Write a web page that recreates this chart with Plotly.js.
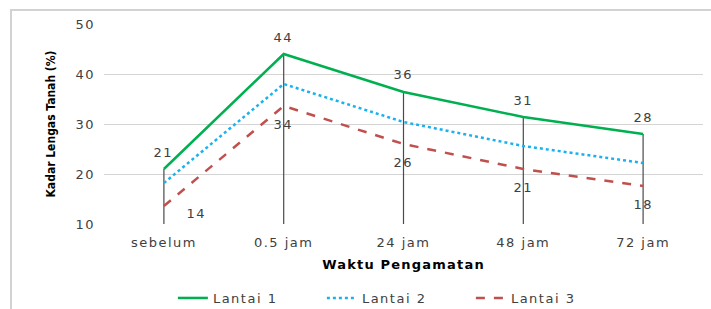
<!DOCTYPE html>
<html>
<head>
<meta charset="utf-8">
<script src="https://cdn.plot.ly/plotly-3.0.1.min.js"></script>
<style>
  html, body { margin: 0; padding: 0; background: #fff; }
  #wrap { position: relative; width: 711px; height: 309px; overflow: hidden; }
  #chart { width: 711px; height: 309px; }
  #frame { position: absolute; left: 10px; top: 9px; width: 900px; height: 500px;
           border-left: 2px solid #d2d2d2; border-top: 2px solid #d2d2d2; pointer-events: none; }
  #chart .xtick text, #chart .ytick text, #chart .annotation-text,
  #chart .legendtext { letter-spacing: 1.5px; }
  #chart .g-xtitle text { letter-spacing: 1.2px; }
</style>
</head>
<body>
<div id="wrap">
  <div id="chart"></div>
  <div id="frame"></div>
</div>
<script>
// ---- data ----
const categories = ["sebelum", "0.5 jam", "24 jam", "48 jam", "72 jam"];
const lantai1 = [21, 44, 36.4, 31.4, 28];
const lantai2 = [18.2, 38, 30.4, 25.6, 22.2];
const lantai3 = [13.6, 33.6, 26, 21, 17.6];
const labels1 = ["21", "44", "36", "31", "28"];
const labels3 = ["14", "34", "26", "21", "18"];
const yTicks = [10, 20, 30, 40, 50];
const yMin = 10;

// ---- styling ----
const txtFont = { family: "DejaVu Sans, Open Sans, sans-serif", size: 13, color: "#404040" };
const label1Shift = { x: [0, 0, 0, 0, 0], y: [17, 17, 18, 17, 17] };
const label3Shift = { x: [33, 0, 0, 0, 0], y: [-7, -18, -18, -18, -18] };

const dropMinus = lantai1.map(v => v - yMin);

const traces = [
  {
    x: categories, y: lantai1, name: "Lantai 1", type: "scatter", mode: "lines",
    line: { color: "#00b050", width: 2.5 },
    error_y: { type: "data", symmetric: false, array: lantai1.map(() => 0),
               arrayminus: dropMinus, width: 0, thickness: 1.2, color: "#4a4a4a" }
  },
  {
    x: categories, y: lantai2, name: "Lantai 2", type: "scatter", mode: "lines",
    line: { color: "#1ab2ee", width: 2.5, dash: "dot" }
  },
  {
    x: categories, y: lantai3, name: "Lantai 3", type: "scatter", mode: "lines",
    line: { color: "#c0504d", width: 2.5, dash: "dash" }
  }
];

const annotations = [];
categories.forEach((c, i) => {
  annotations.push({ x: c, y: lantai1[i], text: labels1[i], showarrow: false,
    xshift: label1Shift.x[i], yshift: label1Shift.y[i], font: txtFont });
  annotations.push({ x: c, y: lantai3[i], text: labels3[i], showarrow: false,
    xshift: label3Shift.x[i], yshift: label3Shift.y[i], font: txtFont });
});

const layout = {
  width: 711, height: 309,
  margin: { l: 104, r: 8, t: 24, b: 85, autoexpand: false },
  paper_bgcolor: "#ffffff", plot_bgcolor: "#ffffff",
  showlegend: true,
  legend: {
    orientation: "h", x: 0.115, xanchor: "left", y: -0.37, yanchor: "middle",
    font: { family: "DejaVu Sans, Open Sans, sans-serif", size: 13, color: "#404040" },
    entrywidth: 104, entrywidthmode: "pixels", traceorder: "normal",
    bgcolor: "rgba(0,0,0,0)"
  },
  xaxis: {
    type: "category", range: [-0.5, 4.5],
    showgrid: false, zeroline: false,
    showline: false, ticks: "",
    tickfont: txtFont, ticklabelstandoff: 9,
    title: { text: "Waktu Pengamatan", standoff: 10,
             font: { family: "DejaVu Sans, sans-serif", size: 13, color: "#000", weight: "bold" } }
  },
  yaxis: {
    range: [10, 50], tickvals: yTicks, ticktext: yTicks.map(String),
    showgrid: true, gridcolor: "#d4d4d4", gridwidth: 1,
    zeroline: false, showline: false, ticks: "",
    tickfont: txtFont, ticklabelstandoff: 8,
    title: { text: "Kadar Lengas Tanah (%)", standoff: 20,
             font: { family: "Liberation Sans Narrow, DejaVu Sans Condensed, sans-serif", size: 12, color: "#000", weight: "bold" } }
  },
  annotations: annotations
};

Plotly.newPlot("chart", traces, layout, { displayModeBar: false, staticPlot: true });
</script>
</body>
</html>
